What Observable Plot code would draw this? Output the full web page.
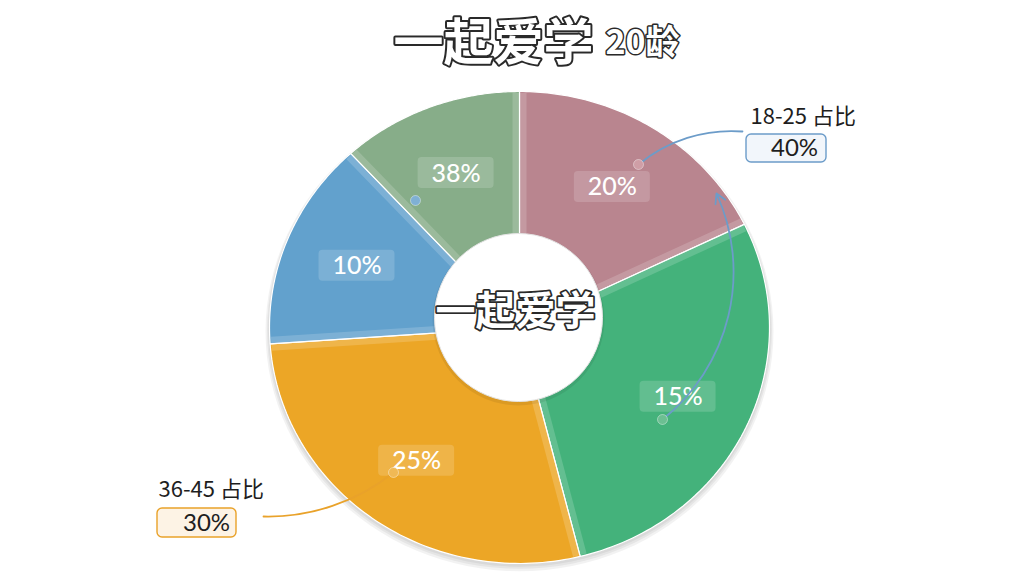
<!DOCTYPE html>
<html><head><meta charset="utf-8">
<script src="https://cdn.jsdelivr.net/npm/d3@7"></script>
<script src="https://cdn.jsdelivr.net/npm/@observablehq/plot@0.6"></script>
<style>
html,body{margin:0;padding:0;background:#fff;}
#chart svg{display:block;}
</style></head><body><div id="chart"></div>
<script>
// ---- data ----
const slices = ["粉", "绿", "橙", "蓝", "灰绿"];
const shares = [17.8, 28.3, 27.8, 14.3, 11.8];          // ring share
const pctLabels = ["20%", "15%", "25%", "10%", "38%"];  // printed labels
const colors = ["#b9858f", "#44b27b", "#eca626", "#62a1cd", "#87ad89"];
const dotColors = ["#cf9ea6", "#6cbf92", "#f0b955", "#7fb0d4"];
const calloutNames = ["18-25 占比", "36-45 占比"];
const calloutValues = ["40%", "30%"];
const calloutColors = ["#6c9cc9", "#e9a22a"];
const calloutFills = ["#f2f6fb", "#fdf3e5"];
const titleMain = "一起爱学";
const titleAge = "20龄";
const centerText = "一起爱学";

// ---- layout ----
const W = 1024, H = 576;
const C = {x: 519, y: 327}, RX = 250, RY = 236;
const HOLE = {x: 518, y: 317, r: 84};

const arcs = d3.pie().sort(null).value(d => d)(shares);
const pt = (a, f, dy = 0) => ({x: C.x + f * RX * Math.sin(a), y: C.y + dy - f * RY * Math.cos(a)});

const polys = arcs.map(p => {
  const pts = [{x: C.x, y: C.y}];
  const n = 80;
  for (let k = 0; k <= n; k++) pts.push(pt(p.startAngle + (p.endAngle - p.startAngle) * k / n, 1));
  pts.push({x: C.x, y: C.y});
  return pts;
});
// soft shadow rings under the whole pie
const shadowRing = (f, dy) => d3.range(0, 121).map(k => pt(2 * Math.PI * k / 120, f, dy));
const shadows = [[1.016, 4], [1.010, 3], [1.005, 2]].map(([f, dy]) => shadowRing(f, dy));

const bounds = arcs.map(p => {
  const o = pt(p.startAngle, 0.995), m = pt(p.startAngle, 0.3);
  return {x1: m.x, y1: m.y, x2: o.x, y2: o.y};
});
const labels = arcs.map((p, i) => {
  const a = (p.startAngle + p.endAngle) / 2;
  return {label: pctLabels[i], ...pt(a, 0.7)};
});

// callout anchors (dots on the ring) and boxes
const dots = [
  {x: 638, y: 164, c: dotColors[0]},
  {x: 662, y: 419, c: dotColors[1]},
  {x: 393, y: 472, c: dotColors[2]},
  {x: 415, y: 200, c: dotColors[3]}
];
const boxes = [
  {name: calloutNames[0], value: calloutValues[0], nx: 750, ny: 116, bx1: 746, bx2: 826, by1: 134, by2: 162, vx: 794, c: calloutColors[0], f: calloutFills[0]},
  {name: calloutNames[1], value: calloutValues[1], nx: 158, ny: 489, bx1: 157, bx2: 236, by1: 508, by2: 537, vx: 206, c: calloutColors[1], f: calloutFills[1]}
];

const cjk = "'Noto Sans CJK SC', 'Noto Sans', sans-serif";
const latin = "Lato, 'Open Sans', sans-serif";

const chart = Plot.plot({
  width: W, height: H, margin: 0,
  x: {domain: [0, W], range: [0, W], axis: null},
  y: {domain: [0, H], range: [0, H], axis: null},
  marks: [
    ...shadows.map(pts => Plot.line(pts, {x: "x", y: "y", fill: "#000", fillOpacity: 0.05, stroke: "none"})),
    ...polys.map((pts, i) => Plot.line(pts, {x: "x", y: "y", fill: colors[i], stroke: "white", strokeWidth: 1.2})),
    Plot.link(bounds, {x1: "x1", y1: "y1", x2: "x2", y2: "y2", stroke: "white", strokeOpacity: 0.17, strokeWidth: 14}),
    Plot.link(bounds, {x1: "x1", y1: "y1", x2: "x2", y2: "y2", stroke: "white", strokeOpacity: 0.45, strokeWidth: 1}),
    Plot.dot([HOLE], {x: "x", y: d => d.y + 2, r: HOLE.r + 2, fill: "#000", fillOpacity: 0.07}),
    Plot.dot([HOLE], {x: "x", y: "y", r: HOLE.r, fill: "white", stroke: "#e4e4e4", strokeWidth: 1}),
    Plot.rect(labels, {x1: d => d.x - 38, x2: d => d.x + 38, y1: d => d.y - 16, y2: d => d.y + 15, fill: "white", fillOpacity: 0.16, rx: 4}),
    Plot.text(labels, {x: "x", y: "y", text: "label", fill: "white", fontSize: 25, fontWeight: 500, fontFamily: latin}),
    Plot.arrow([{x1: 638, y1: 164, x2: 742, y2: 131}], {x1: "x1", y1: "y1", x2: "x2", y2: "y2", stroke: calloutColors[0], bend: 22, headLength: 0, strokeWidth: 1.8}),
    Plot.arrow([{x1: 662, y1: 419, x2: 716, y2: 193}], {x1: "x1", y1: "y1", x2: "x2", y2: "y2", stroke: calloutColors[0], bend: -38, headLength: 9, strokeWidth: 1.8}),
    Plot.arrow([{x1: 393, y1: 472, x2: 263, y2: 516}], {x1: "x1", y1: "y1", x2: "x2", y2: "y2", stroke: calloutColors[1], bend: 20, headLength: 0, strokeWidth: 1.8}),
    Plot.dot(dots, {x: "x", y: "y", r: 5, fill: d => d.c, stroke: "white", strokeOpacity: 0.4, strokeWidth: 1}),
    Plot.rect(boxes, {x1: "bx1", x2: "bx2", y1: "by1", y2: "by2", fill: d => d.f, stroke: d => d.c, strokeWidth: 1.4, rx: 5}),
    Plot.text(boxes, {x: "nx", y: "ny", text: "name", textAnchor: "start", fill: "#1e1e1e", fontSize: 22, fontFamily: cjk}),
    Plot.text(boxes, {x: "vx", y: d => (d.by1 + d.by2) / 2, text: "value", fill: "#1e1e1e", fontSize: 24, fontFamily: latin}),
    // title
    Plot.text([titleMain], {x: 593, y: 43, text: d => d, textAnchor: "end", fill: "white", stroke: "#2a2a2a", strokeWidth: 4, fontSize: 50, fontWeight: 700, fontFamily: cjk}),
    Plot.text([titleAge], {x: 605, y: 43, text: d => d, textAnchor: "start", fill: "white", stroke: "#2a2a2a", strokeWidth: 3, fontSize: 34, fontWeight: 700, fontFamily: cjk}),
    // center text
    Plot.text([centerText], {x: 515, y: 312, text: d => d, fill: "white", stroke: "#2a2a2a", strokeWidth: 3.6, fontSize: 40, fontWeight: 700, fontFamily: cjk})
  ]
});
document.getElementById("chart").append(chart);
</script></body></html>
